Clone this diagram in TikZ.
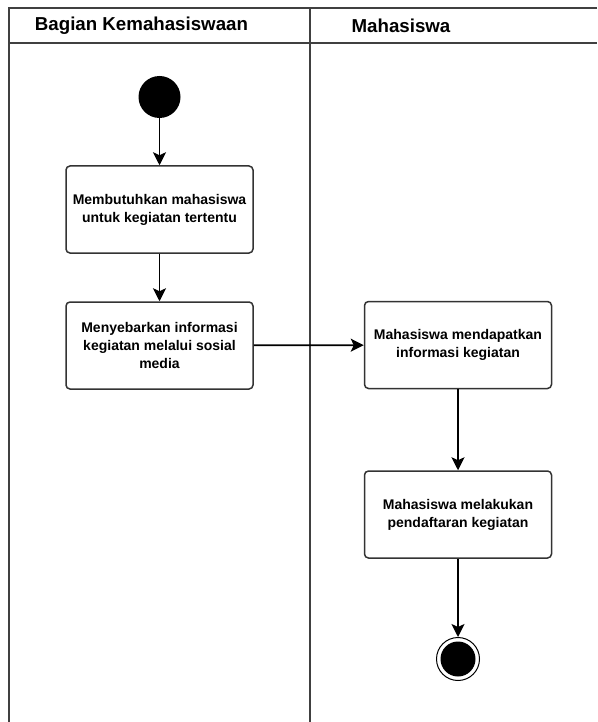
\documentclass[tikz,border=0pt]{standalone}
\usepackage{fontspec}
\setmainfont{Liberation Sans}
\usetikzlibrary{arrows.meta}
\begin{document}
\begin{tikzpicture}[x=1pt,y=-1pt,
  lane/.style={draw=black!75, line width=2pt},
  action/.style={draw=black!80, line width=1.5pt, rounded corners=4pt, fill=white,
    minimum width=187pt, minimum height=87pt, align=center,
    font=\bfseries\fontsize{14}{18}\selectfont, inner sep=2pt},
  flow/.style={draw=black, line width=1.7pt, -{Stealth[length=13pt,width=13pt,inset=3pt]}},
  header/.style={font=\bfseries\fontsize{18.7}{20}\selectfont}]
\useasboundingbox (0,0) rectangle (597,722);
% swimlane frame
\draw[lane] (597,8) -- (9,8) -- (9,722);
\draw[lane] (9,43) -- (597,43);
\draw[lane] (310,8) -- (310,722);
\node[header] (laneA) at (141.5,26) {Bagian Kemahasiswaan};
\node[header] (laneB) at (401,26) {Mahasiswa};
% start and end states
\node[circle, fill=black, minimum size=42pt, inner sep=0pt] (start) at (159.5,97) {};
\node[circle, draw=black, line width=1pt, fill=white, minimum size=43pt, inner sep=0pt] (end) at (458,659) {};
\node[circle, fill=black, minimum size=35pt, inner sep=0pt] (endcore) at (end.center) {};
% actions
\node[action] (a1) at (159.5,209.5) {Membutuhkan mahasiswa\\untuk kegiatan tertentu};
\node[action] (a2) at (159.5,345.5) {Menyebarkan informasi\\kegiatan melalui sosial\\media};
\node[action] (a3) at (458,345) {Mahasiswa mendapatkan\\informasi kegiatan};
\node[action] (a4) at (458,514.5) {Mahasiswa melakukan\\pendaftaran kegiatan};
% flows
\draw[flow] (start) -- (a1);
\draw[flow] (a1) -- (a2);
\draw[flow] (a2) -- (a3);
\draw[flow] (a3) -- (a4);
\draw[flow] (a4) -- (end);
\end{tikzpicture}
\end{document}
